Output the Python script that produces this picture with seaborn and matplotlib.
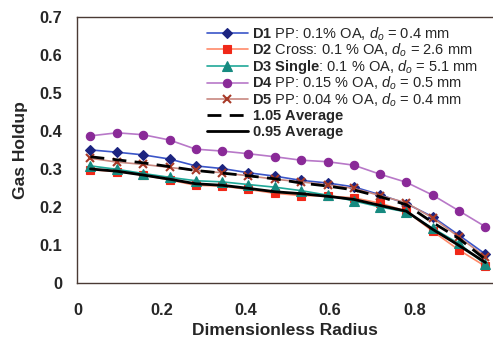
import matplotlib
matplotlib.use("Agg")
import matplotlib.pyplot as plt
import seaborn as sns
import pandas as pd
from matplotlib.ticker import FuncFormatter

# ---- data ----
radius = [0.031, 0.094, 0.156, 0.219, 0.281, 0.344, 0.406, 0.469,
          0.531, 0.594, 0.656, 0.719, 0.781, 0.844, 0.906, 0.969]
d1 = [0.351, 0.345, 0.338, 0.327, 0.309, 0.302, 0.291, 0.282,
      0.271, 0.264, 0.254, 0.233, 0.210, 0.175, 0.127, 0.077]
d2 = [0.299, 0.294, 0.285, 0.272, 0.258, 0.256, 0.247, 0.237,
      0.231, 0.230, 0.225, 0.211, 0.190, 0.137, 0.088, 0.045]
d3 = [0.309, 0.300, 0.289, 0.279, 0.270, 0.267, 0.260, 0.253,
      0.244, 0.232, 0.217, 0.201, 0.188, 0.145, 0.105, 0.050]
d4 = [0.388, 0.396, 0.391, 0.377, 0.353, 0.348, 0.341, 0.333,
      0.324, 0.320, 0.311, 0.287, 0.266, 0.232, 0.191, 0.149]
d5 = [0.329, 0.319, 0.313, 0.305, 0.297, 0.291, 0.283, 0.274,
      0.267, 0.259, 0.250, 0.231, 0.212, 0.172, 0.122, 0.070]
avg105 = [0.333, 0.325, 0.317, 0.307, 0.297, 0.290, 0.283, 0.275,
          0.264, 0.256, 0.246, 0.228, 0.207, 0.160, 0.118, 0.063]
avg095 = [0.301, 0.295, 0.285, 0.274, 0.262, 0.258, 0.250, 0.241,
          0.236, 0.229, 0.221, 0.205, 0.190, 0.142, 0.100, 0.055]

labels = [
    r"$\mathbf{D1}$ PP: 0.1% OA, $d_o$ = 0.4 mm",
    r"$\mathbf{D2}$ Cross: 0.1 % OA, $d_o$ = 2.6 mm",
    r"$\mathbf{D3\ Single}$: 0.1 % OA, $d_o$ = 5.1 mm",
    r"$\mathbf{D4}$ PP: 0.15 % OA, $d_o$ = 0.5 mm",
    r"$\mathbf{D5}$ PP: 0.04 % OA, $d_o$ = 0.4 mm",
    r"$\mathbf{1.05\ Average}$",
    r"$\mathbf{0.95\ Average}$",
]
series = [d1, d2, d3, d4, d5, avg105, avg095]

# ---- style ----
sns.set_style("white")
plt.rcParams['font.family'] = ['Liberation Sans', 'DejaVu Sans']
plt.rcParams['mathtext.fontset'] = 'custom'
plt.rcParams['mathtext.rm'] = 'Liberation Sans'
plt.rcParams['mathtext.it'] = 'Liberation Sans:italic'
plt.rcParams['mathtext.bf'] = 'Liberation Sans:bold'

styles = [
    dict(color="#3a55c8", marker="D", mfc="#1c2480", mec="#1c2480", ms=5, lw=1.2, ls="-"),
    dict(color="#ff8a6a", marker="s", mfc="#f02818", mec="#f02818", ms=5.5, lw=1.2, ls="-"),
    dict(color="#20a898", marker="^", mfc="#168a80", mec="#168a80", ms=6.5, lw=1.2, ls="-"),
    dict(color="#b878c8", marker="o", mfc="#8a2a98", mec="#8a2a98", ms=6, lw=1.2, ls="-"),
    dict(color="#c88880", marker="x", mfc="#a83a28", mec="#a83a28", ms=6, lw=1.2, ls="-", mew=1.5),
    dict(color="black", marker=None, lw=2.0, ls=(0, (5, 3))),
    dict(color="black", marker=None, lw=2.0, ls="-"),
]

fig = plt.figure(figsize=(4.93, 3.37), dpi=100)
ax = fig.add_axes([0.157, 0.159, 0.843, 0.790])

for lab, ys, st in zip(labels, series, styles):
    df = pd.DataFrame({"r": radius, "g": ys})
    kw = dict(color=st["color"], linewidth=st["lw"], linestyle=st["ls"])
    if st.get("marker"):
        kw.update(marker=st["marker"], markerfacecolor=st["mfc"],
                  markeredgecolor=st["mec"], markersize=st["ms"],
                  markeredgewidth=st.get("mew", 0.8))
    sns.lineplot(data=df, x="r", y="g", ax=ax, label=lab, **kw)

ax.set_xlim(0, 0.987)
ax.set_ylim(0, 0.7)
ax.set_xticks([0, 0.2, 0.4, 0.6, 0.8])
ax.set_yticks([0, 0.1, 0.2, 0.3, 0.4, 0.5, 0.6, 0.7])
fmt = FuncFormatter(lambda v, p: "0" if abs(v) < 1e-9 else f"{v:g}")
ax.xaxis.set_major_formatter(fmt)
ax.yaxis.set_major_formatter(fmt)

spine_col = "#4a3a34"
for s in ["left", "bottom", "top"]:
    ax.spines[s].set_visible(True)
    ax.spines[s].set_color(spine_col)
    ax.spines[s].set_linewidth(1.0)
ax.spines["right"].set_visible(False)
ax.tick_params(axis="both", direction="out", length=4, width=1.0, color=spine_col,
               labelsize=11.8, pad=7)
ax.tick_params(axis="x", pad=10)
for t in ax.get_xticklabels() + ax.get_yticklabels():
    t.set_fontweight("bold")
ax.set_xlabel("Dimensionless Radius", fontsize=12.5, fontweight="bold", labelpad=4)
ax.set_ylabel("Gas Holdup", fontsize=12.5, fontweight="bold", labelpad=8)

leg = ax.legend(loc="upper left", bbox_to_anchor=(0.312, 0.970), frameon=False,
                fontsize=10.5, borderpad=0, borderaxespad=0, handlelength=2.8,
                handletextpad=0.3, labelspacing=-0.07)

fig.savefig("out.png", dpi=100)
